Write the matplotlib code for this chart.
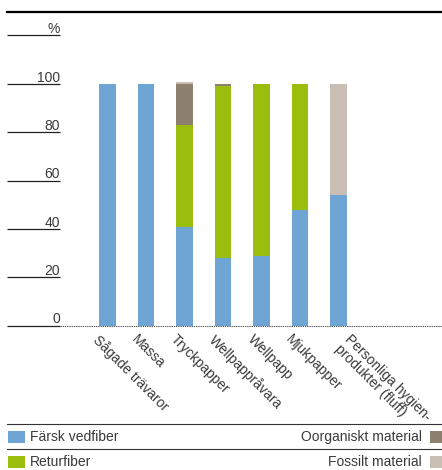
import matplotlib
matplotlib.use("Agg")
import matplotlib.pyplot as plt
from matplotlib.lines import Line2D
from matplotlib.patches import Rectangle

plt.rcParams['font.family'] = ['Liberation Sans', 'DejaVu Sans']

categories = ['Sågade trävaror', 'Massa', 'Tryckpapper', 'Wellpappråvara',
              'Wellpapp', 'Mjukpapper', 'Personliga hygien-\nprodukter (fluff)']
farsk = [100, 100, 41, 28, 29, 48, 54]
retur = [0, 0, 42, 71, 71, 52, 0]
oorg = [0, 0, 17, 1, 0, 0, 0]
fossil = [0, 0, 1, 0, 0, 0, 46]
yticks = [0, 20, 40, 60, 80, 100]

series = [
    ('Färsk vedfiber', farsk, '#6fa5d5'),
    ('Returfiber', retur, '#9bbe0e'),
    ('Oorganiskt material', oorg, '#8d806f'),
    ('Fossilt material', fossil, '#c9beb3'),
]

W, H = 442, 470
fig = plt.figure(figsize=(W / 100, H / 100), dpi=100)

def fx(x):
    return x / W

def fy(y):
    return 1 - y / H

# main axes: x 60..442 px, y value 0 at 325.7 px, 2.417 px per unit
ymax = 110
ax = fig.add_axes([fx(60), fy(325.7), fx(442) - fx(60), ymax * 2.417 / H])
step = 38.5
x0 = 107.5
ax.set_xlim((60 - x0) / step, (442 - x0) / step)
ax.set_ylim(0, ymax)
ax.axis('off')

xs = list(range(len(categories)))
bottom = [0] * len(categories)
for name, vals, col in series:
    ax.bar(xs, vals, width=0.44, bottom=bottom, color=col, linewidth=0)
    bottom = [b + v for b, v in zip(bottom, vals)]

txtcol = '#3a3a3a'
fs = 10
# y labels with underline rules
ytr = ax.get_yaxis_transform()
left = (7 - 60) / 382
for v in yticks:
    ax.plot([left, 0], [v, v], transform=ytr, color='#222222', lw=0.9,
            clip_on=False, solid_capstyle='butt')
    ax.annotate(str(v), xy=(0, v), xycoords=ytr, xytext=(0, 1.6),
                textcoords='offset points', ha='right', va='baseline',
                fontsize=fs, color=txtcol)
pct = (325.7 - 35) / 2.417
ax.plot([left, 0], [pct, pct], transform=ytr, color='#222222', lw=0.9,
        clip_on=False, solid_capstyle='butt')
ax.annotate('%', xy=(0, pct), xycoords=ytr, xytext=(0, 1.6),
            textcoords='offset points', ha='right', va='baseline',
            fontsize=fs, color=txtcol)

# zero baseline: dotted part across plot area
ax.plot([0, 1], [0, 0], transform=ytr, color='#555555', lw=0.8,
        ls=(0, (1.2, 0.8)), clip_on=False)

# category labels
xtr = ax.get_xaxis_transform()
for i, lab in enumerate(categories):
    dx = -5 if '\n' not in lab else 9.5
    ax.annotate(lab, xy=(i, 0), xycoords=xtr, xytext=(dx, -4.5),
                textcoords='offset points', ha='left', va='top',
                rotation=-45, rotation_mode='anchor', fontsize=fs,
                color=txtcol, linespacing=1.0)

# top heavy rule
fig.add_artist(Line2D([fx(7), fx(442)], [fy(12), fy(12)], color='black',
                      lw=1.6, transform=fig.transFigure))

# legend
for yy in (424, 449):
    fig.add_artist(Line2D([fx(7), fx(442)], [fy(yy), fy(yy)], color='#333333',
                          lw=0.8, transform=fig.transFigure))
rows = [437, 461.5]
sq = 12
for k, (name, vals, col) in enumerate(series):
    yy = rows[k % 2]
    if k < 2:
        fig.add_artist(Rectangle((fx(8), fy(yy + sq / 2)), fx(17), sq / H,
                                 color=col, transform=fig.transFigure, lw=0))
        fig.text(fx(30), fy(yy), name, ha='left', va='center',
                 fontsize=fs, color=txtcol)
    else:
        fig.add_artist(Rectangle((fx(430), fy(yy + sq / 2)), fx(12), sq / H,
                                 color=col, transform=fig.transFigure, lw=0))
        fig.text(fx(422), fy(yy), name, ha='right', va='center',
                 fontsize=fs, color=txtcol)

fig.savefig('out.png', dpi=100)
